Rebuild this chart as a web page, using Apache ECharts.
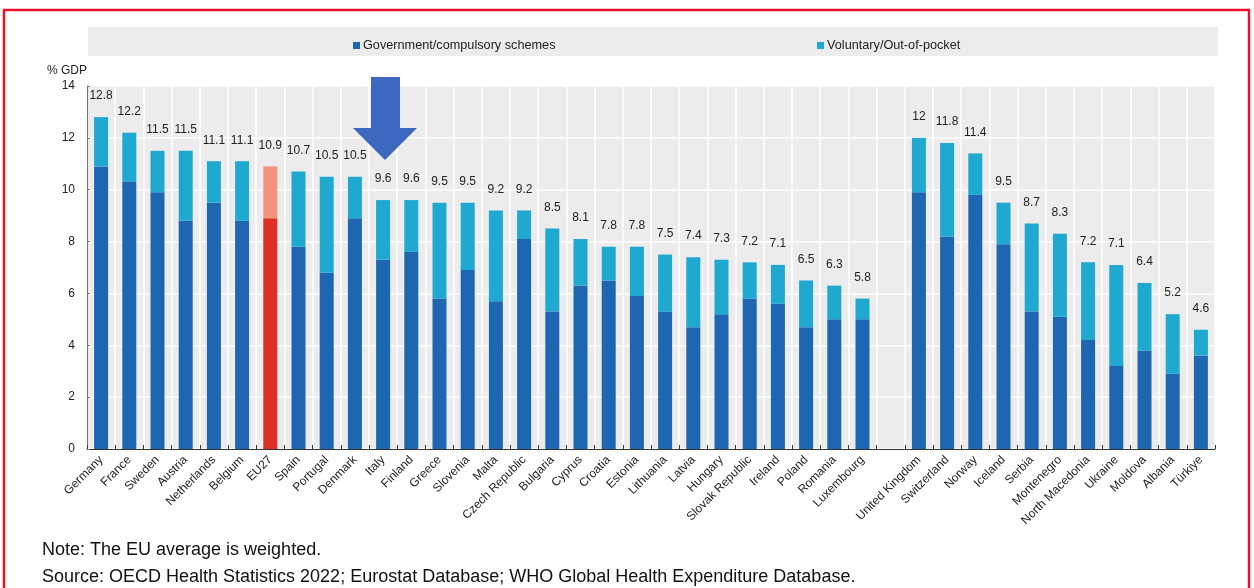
<!DOCTYPE html>
<html>
<head>
<meta charset="utf-8">
<script src="https://cdn.jsdelivr.net/npm/echarts@6/dist/echarts.min.js"></script>
<style>
html,body{margin:0;padding:0;background:#fff;}
#c{width:1254px;height:588px;}
</style>
</head>
<body>
<div id="c"></div>
<script>
const categories = ['Germany','France','Sweden','Austria','Netherlands','Belgium','EU27','Spain','Portugal','Denmark','Italy','Finland','Greece','Slovenia','Malta','Czech Republic','Bulgaria','Cyprus','Croatia','Estonia','Lithuania','Latvia','Hungary','Slovak Republic','Ireland','Poland','Romania','Luxembourg','','United Kingdom','Switzerland','Norway','Iceland','Serbia','Montenegro','North Macedonia','Ukraine','Moldova','Albania','Türkiye'];
const govValues = [10.9,10.3,9.9,8.8,9.5,8.8,8.9,7.8,6.8,8.9,7.3,7.6,5.8,6.9,5.7,8.1,5.3,6.3,6.5,5.9,5.3,4.7,5.2,5.8,5.6,4.7,5.0,5.0,null,9.9,8.2,9.8,7.9,5.3,5.1,4.2,3.2,3.8,2.9,3.6];
const volValues = [1.9,1.9,1.6,2.7,1.6,2.3,2.0,2.9,3.7,1.6,2.3,2.0,3.7,2.6,3.5,1.1,3.2,1.8,1.3,1.9,2.2,2.7,2.1,1.4,1.5,1.8,1.3,0.8,null,2.1,3.6,1.6,1.6,3.4,3.2,3.0,3.9,2.6,2.3,1.0];
const totalLabels = ['12.8','12.2','11.5','11.5','11.1','11.1','10.9','10.7','10.5','10.5','9.6','9.6','9.5','9.5','9.2','9.2','8.5','8.1','7.8','7.8','7.5','7.4','7.3','7.2','7.1','6.5','6.3','5.8','','12','11.8','11.4','9.5','8.7','8.3','7.2','7.1','6.4','5.2','4.6'];
const yTicks = {min:0,max:14,interval:2};
const seriesNames = ['Government/compulsory schemes','Voluntary/Out-of-pocket'];

const GOV = '#1e65b2', VOL = '#1fa8d0', EU_GOV = '#df2e25', EU_VOL = '#f3937a';
const FONT = '"Liberation Sans", Arial, sans-serif';

const govData = govValues.map((v,i)=> categories[i]==='EU27' ? {value:v,itemStyle:{color:EU_GOV}} : v);
const volData = volValues.map((v,i)=> categories[i]==='EU27' ? {value:v,itemStyle:{color:EU_VOL}} : v);

const chart = echarts.init(document.getElementById('c'), null, {renderer:'canvas'});
chart.setOption({
  animation:false,
  backgroundColor:'#fff',
  textStyle:{fontFamily:FONT},
  grid:{left:87,right:39,top:86,bottom:139,show:true,backgroundColor:'#ececec',borderWidth:0},
  legend:[
    {data:[seriesNames[0]],left:348,top:34,itemWidth:7,itemHeight:7,itemGap:4,icon:'rect',
     textStyle:{fontSize:12.7,color:'#222',fontFamily:FONT,padding:[0,0,0,-2]}},
    {data:[seriesNames[1]],left:812,top:34,itemWidth:7,itemHeight:7,itemGap:4,icon:'rect',
     textStyle:{fontSize:12.7,color:'#222',fontFamily:FONT,padding:[0,0,0,-2]}}
  ],
  xAxis:{
    type:'category',data:categories,
    axisLine:{show:true,lineStyle:{color:'#333',width:1}},
    axisTick:{show:true,inside:true,length:4,interval:0,lineStyle:{color:'#333'}},
    axisLabel:{interval:0,rotate:45,fontSize:12,color:'#222',margin:9,fontFamily:FONT},
    splitLine:{show:true,interval:0,lineStyle:{color:'#ffffff',width:1.5}}
  },
  yAxis:{
    type:'value',min:yTicks.min,max:yTicks.max,interval:yTicks.interval,
    name:'% GDP',nameLocation:'end',nameGap:9,
    nameTextStyle:{fontSize:12,color:'#222',align:'right',fontFamily:FONT},
    axisLine:{show:true,lineStyle:{color:'#777',width:1}},
    axisTick:{show:true,inside:true,length:3,lineStyle:{color:'#777'}},
    axisLabel:{fontSize:12,color:'#222',margin:12,fontFamily:FONT},
    splitLine:{show:true,lineStyle:{color:'#ffffff',width:1.5}}
  },
  series:[
    {name:seriesNames[0],type:'bar',stack:'t',data:govData,barWidth:14,itemStyle:{color:GOV}},
    {name:seriesNames[1],type:'bar',stack:'t',data:volData,barWidth:14,itemStyle:{color:VOL},
     label:{show:true,position:'top',distance:15,fontSize:12,color:'#222',fontFamily:FONT,
       formatter:p=>totalLabels[p.dataIndex]}}
  ],
  graphic:[
    {type:'rect',left:88,top:27,shape:{width:1130,height:29},style:{fill:'#ececec'},z:-1},
    {type:'rect',shape:{x:4,y:10,width:1245,height:620},style:{fill:null,stroke:'#e8102c',lineWidth:2.5},z:100},
    {type:'polygon',shape:{points:[[371,77],[400,77],[400,128],[417,128],[385,160],[353,128],[371,128]]},
     style:{fill:'#3e67bf'},z:50},
    {type:'text',left:42,top:541,style:{text:'Note: The EU average is weighted.',font:'18px "Liberation Sans", Arial, sans-serif',fill:'#111'}},
    {type:'text',left:42,top:568,style:{text:'Source: OECD Health Statistics 2022; Eurostat Database; WHO Global Health Expenditure Database.',font:'18px "Liberation Sans", Arial, sans-serif',fill:'#111'}}
  ]
});
</script>
</body>
</html>
